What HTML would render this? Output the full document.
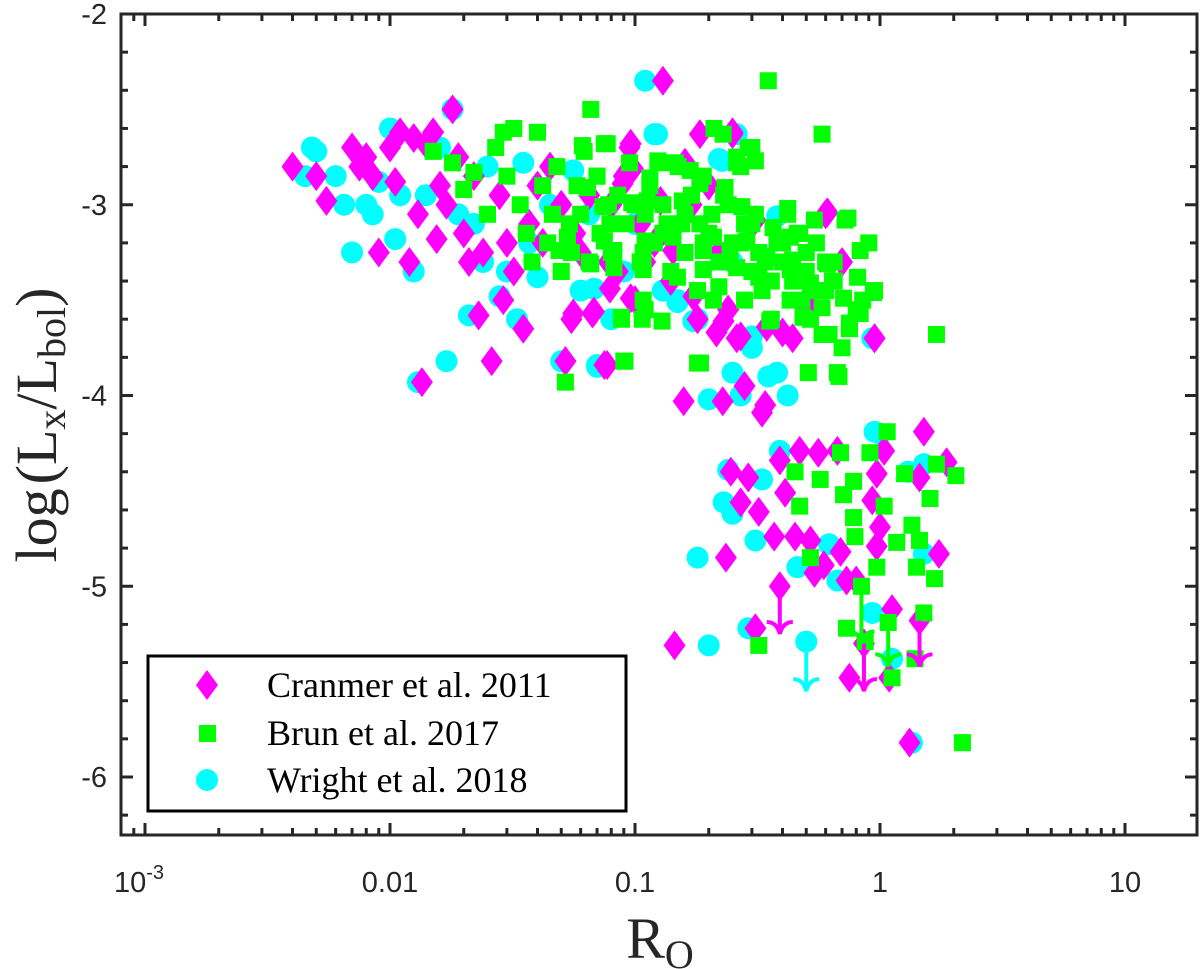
<!DOCTYPE html>
<html><head><meta charset="utf-8"><style>
html,body{margin:0;padding:0;background:#fff;width:1200px;height:969px;overflow:hidden}
svg{display:block}
</style></head><body>
<svg id="chart" width="1200" height="969" xmlns="http://www.w3.org/2000/svg">
<g id="marks"></g>
<g id="axes"></g>
</svg>
<script>
// ---- data ----
const cranRo = [0.004,0.005,0.0055,0.007,0.0075,0.008,0.0085,0.009,0.01,0.0105,0.011,0.012,0.0125,0.013,0.0135,0.014,0.015,0.0155,0.016,0.017,0.018,0.019,0.02,0.021,0.022,0.023,0.024,0.026,0.028,0.029,0.03,0.032,0.035,0.037,0.04,0.042,0.045,0.05,0.052,0.055,0.057,0.06,0.065,0.068,0.075,0.078,0.08,0.085,0.09,0.095,0.1,0.105,0.11,0.13,0.12,0.14,0.17,0.18,0.2,0.22,0.24,0.25,0.26,0.3,0.44,0.5,0.6,0.7,0.95,
0.158,0.228,0.33,1.51,0.39,0.47,0.56,0.67,1.04,1.87,0.246,0.29,0.41,1.45,0.97,0.27,0.32,0.37,0.45,0.52,0.235,0.59,0.54,0.69,0.73,0.80,0.93,1.0,1.74,0.97,0.39,0.145,0.31,1.12,1.45,0.75,1.09,1.32,0.86,0.28,0.34,
0.096,0.184,0.25,0.098,0.089,0.16,0.61,0.127,0.31,0.056,0.067,0.079,0.096,0.143,0.173,0.215,0.27,0.40,0.95,0.077,0.052,0.23,0.345,0.50];
const cranL = [-2.8,-2.85,-2.98,-2.7,-2.8,-2.75,-2.85,-3.25,-2.7,-2.88,-2.62,-3.3,-2.65,-3.05,-3.93,-2.68,-2.62,-3.18,-2.9,-3.0,-2.5,-2.75,-3.15,-3.3,-2.85,-3.58,-3.25,-3.82,-2.95,-3.5,-3.2,-3.35,-3.65,-3.1,-2.9,-3.2,-2.8,-3.0,-3.82,-3.6,-3.15,-3.25,-2.95,-3.56,-3.84,-3.3,-3.0,-3.35,-2.85,-2.7,-3.5,-3.1,-3.3,-2.35,-3.2,-3.4,-3.0,-3.6,-2.9,-3.25,-3.55,-2.62,-3.7,-3.1,-3.7,-3.5,-3.05,-3.3,-3.7,
-4.03,-4.03,-4.09,-4.19,-4.34,-4.29,-4.30,-4.29,-4.29,-4.35,-4.40,-4.43,-4.51,-4.43,-4.41,-4.56,-4.61,-4.74,-4.74,-4.76,-4.85,-4.89,-4.93,-4.82,-4.97,-4.97,-4.55,-4.69,-4.83,-4.79,-5.0,-5.31,-5.22,-5.12,-5.18,-5.48,-5.48,-5.82,-5.30,-3.95,-4.05,
-2.68,-2.63,-2.63,-2.81,-2.89,-2.78,-3.04,-2.98,-3.08,-3.57,-3.57,-3.44,-3.49,-3.24,-3.48,-3.67,-3.69,-3.67,-3.70,-3.84,-3.82,-3.61,-3.64,-3.54];
const brunRo = [0.015,0.018,0.02,0.022,0.025,0.027,0.029,0.03,0.032,0.034,0.036,0.038,0.04,0.042,0.044,0.046,0.048,0.05,0.052,0.054,0.055,0.058,0.06,0.062,0.065,0.066,0.07,0.072,0.075,0.078,0.08,0.085,0.088,0.09,0.092,0.095,0.1,0.105,0.11,0.115,0.12,0.125,0.13,0.14,0.15,0.155,0.16,0.17,0.18,0.185,0.19,0.2,0.21,0.22,0.23,0.24,0.25,0.26,0.27,0.28,0.29,0.3,0.31,0.32,0.33,0.35,0.36,0.38,0.4,0.42,0.44,0.46,0.48,0.5,0.52,0.55,0.58,0.6,0.62,0.65,0.7,0.72,0.75,0.8,0.85,0.9,0.95,1.7,
0.11,0.13,0.16,0.19,0.23,0.27,0.3,0.34,0.36,0.4,0.45,0.5,0.55,0.6,0.65,0.68,
1.07,0.69,0.91,0.45,0.57,0.78,0.71,0.47,1.26,1.7,2.04,1.6,1.04,0.78,1.35,0.79,1.17,1.45,0.52,1.41,0.97,1.67,0.84,0.73,1.08,1.51,0.32,0.87,1.39,1.12,2.17,
0.061,0.077,0.229,0.30,0.26,0.31,0.124,0.146,0.168,0.184,0.233,0.115,0.07,0.064,0.074,0.097,0.112,0.156,0.206,0.273,0.42,0.54,0.74,0.079,0.135,0.184,0.366,0.47,0.053,0.075,0.11,0.143,0.209,0.286,0.38,0.43,0.049,0.082,0.108,0.19,0.244,0.345,0.44,0.61,0.83,0.066,0.082,0.108,0.149,0.19,0.26,0.32,0.43,0.52,0.64,0.81,0.22,0.108,0.209,0.28,0.43,0.71,0.94,0.088,0.107,0.129,0.355,0.485,0.58,0.58,0.83,0.75,0.091,0.18,0.51,0.67];
const brunL = [-2.72,-2.78,-2.92,-2.83,-3.05,-2.7,-2.62,-2.85,-2.6,-3.0,-3.15,-3.3,-2.62,-2.9,-3.2,-3.05,-2.8,-3.35,-3.93,-3.1,-3.25,-2.9,-3.05,-2.72,-3.3,-2.5,-2.85,-3.15,-2.68,-3.0,-3.25,-2.95,-3.6,-3.82,-3.1,-2.78,-3.0,-3.3,-3.55,-2.9,-3.2,-2.78,-3.0,-3.35,-2.8,-3.1,-3.25,-2.95,-3.45,-3.83,-2.85,-3.15,-2.6,-3.3,-2.95,-3.0,-3.2,-2.75,-2.8,-3.1,-2.7,-3.35,-3.05,-3.25,-3.45,-2.35,-3.6,-3.2,-3.3,-3.05,-3.4,-3.15,-3.5,-3.25,-3.6,-3.45,-2.63,-3.3,-3.68,-3.4,-3.75,-3.08,-3.62,-3.55,-3.5,-3.2,-3.45,-3.68,
-3.05,-3.15,-3.05,-3.2,-3.3,-3.2,-3.1,-3.3,-3.4,-3.2,-3.4,-3.35,-3.2,-3.45,-3.3,-3.9,
-4.19,-4.30,-4.30,-4.40,-4.44,-4.45,-4.52,-4.58,-4.41,-4.36,-4.42,-4.54,-4.58,-4.64,-4.68,-4.74,-4.77,-4.76,-4.85,-4.90,-4.90,-4.96,-5.0,-5.22,-5.19,-5.14,-5.31,-5.29,-5.38,-5.48,-5.82,
-2.69,-2.68,-2.63,-2.70,-2.78,-2.77,-2.77,-2.78,-2.82,-2.89,-2.91,-2.86,-2.85,-2.91,-3.01,-2.99,-2.98,-2.98,-3.05,-3.01,-3.02,-3.08,-3.07,-3.10,-3.10,-3.10,-3.12,-3.15,-3.17,-3.19,-3.19,-3.17,-3.17,-3.19,-3.20,-3.17,-3.24,-3.24,-3.25,-3.24,-3.24,-3.27,-3.29,-3.31,-3.24,-3.31,-3.33,-3.34,-3.38,-3.34,-3.33,-3.38,-3.34,-3.41,-3.40,-3.38,-3.43,-3.50,-3.50,-3.50,-3.50,-3.49,-3.46,-3.59,-3.60,-3.61,-3.61,-3.59,-3.54,-3.68,-3.57,-3.65,-3.82,-3.83,-3.88,-3.88];
const wrightRo = [0.0045,0.0048,0.005,0.006,0.0065,0.007,0.008,0.0085,0.009,0.01,0.0105,0.011,0.0125,0.013,0.014,0.016,0.017,0.018,0.019,0.021,0.022,0.024,0.025,0.028,0.03,0.033,0.035,0.037,0.04,0.045,0.05,0.055,0.06,0.065,0.07,0.08,0.09,0.1,0.11,0.12,0.13,0.15,0.18,0.2,0.22,0.25,0.27,0.3,0.35,0.42,
0.95,0.39,1.51,0.24,0.33,0.23,0.25,0.31,0.18,0.46,0.67,0.62,1.51,0.29,0.20,0.5,0.93,1.12,1.35,1.0,1.3,
0.123,0.227,0.26,0.068,0.173,0.149,0.30,0.93,0.07,0.25,0.38,0.38,0.056,0.13];
const wrightL = [-2.85,-2.7,-2.72,-2.85,-3.0,-3.25,-3.0,-3.05,-2.88,-2.6,-3.18,-2.95,-3.35,-3.93,-2.95,-2.7,-3.82,-2.5,-3.05,-3.58,-3.1,-3.3,-2.8,-3.48,-3.35,-3.6,-2.78,-3.2,-3.38,-3.0,-3.82,-3.2,-3.45,-3.05,-3.85,-3.6,-3.35,-3.1,-2.35,-2.63,-3.45,-3.5,-3.6,-4.02,-2.76,-3.3,-4.0,-3.75,-3.9,-4.0,
-4.19,-4.29,-4.36,-4.39,-4.44,-4.56,-4.62,-4.76,-4.85,-4.90,-4.97,-4.78,-4.83,-5.22,-5.31,-5.29,-5.14,-5.38,-5.82,-4.2,-4.4,
-2.63,-2.77,-2.63,-3.44,-3.61,-3.51,-3.69,-3.70,-3.84,-3.88,-3.88,-3.06,-2.82,-3.45];
// upper-limit arrows
const arrowSeries = ['c','c','c','b','b','w'];
const arrowRo = [0.39,0.86,1.45,0.84,1.08,0.5];
const arrowFrom = [-5.0,-5.30,-5.18,-5.0,-5.19,-5.29];
const arrowTo = [-5.25,-5.55,-5.42,-5.3,-5.42,-5.55];
const xTickVals = [0.001,0.01,0.1,1,10];
const xTickLabels = ['10','0.01','0.1','1','10'];
const yTickVals = [-2,-3,-4,-5,-6];
const yTickLabels = ['-2','-3','-4','-5','-6'];

// ---- axes mapping ----
const L=121,R=1197,T=14,B=835;
const xs = v => 880 + 245*Math.log10(v);
const ys = v => 14 + (-2 - v)*190.75;
const NS='http://www.w3.org/2000/svg';
function mk(tag,attrs,parent){const e=document.createElementNS(NS,tag);for(const k in attrs)e.setAttribute(k,attrs[k]);parent.appendChild(e);return e;}
const marks=document.getElementById('marks'), axes=document.getElementById('axes');

for(let i=0;i<wrightRo.length;i++){
  const c=mk('circle',{cx:xs(wrightRo[i]),cy:ys(wrightL[i]),r:11,fill:'#00ffff'},marks);
  
  
}
for(let i=0;i<cranRo.length;i++){
  const x=xs(cranRo[i]),y=ys(cranL[i]);
  const p=mk('polygon',{points:`${x},${y-15} ${x+11},${y} ${x},${y+15} ${x-11},${y}`,fill:'#ff00ff'},marks);
  
  
}
for(let i=0;i<brunRo.length;i++){
  const x=xs(brunRo[i]),y=ys(brunL[i]);
  const s=mk('rect',{x:x-8.5,y:y-8.5,width:17,height:17,fill:'#00ff00'},marks);
  
  
}
const acol={c:'#ff00ff',b:'#00ff00',w:'#00ffff'};
for(let i=0;i<arrowRo.length;i++){
  const x=xs(arrowRo[i]),y1=ys(arrowFrom[i]),y2=ys(arrowTo[i]);
  const g=mk('g',{stroke:acol[arrowSeries[i]],'stroke-width':4,fill:'none'},marks);
  
  
  mk('line',{x1:x,y1:y1,x2:x,y2:y2},g);
  mk('path',{d:`M${x-13},${y2-12} Q${x-3},${y2-12} ${x},${y2} Q${x+3},${y2-12} ${x+13},${y2-12}`},g);
}

const fr=mk('rect',{x:L,y:T,width:R-L,height:B-T,fill:'none',stroke:'#262626','stroke-width':3},axes);


for(let d=-4;d<=1;d++){
  for(let m=1;m<=9;m++){
    const v=m*Math.pow(10,d), x=xs(v);
    if(x<L+2||x>R-2)continue;
    const len=m===1?12:7;
    mk('line',{x1:x,y1:B,x2:x,y2:B-len,stroke:'#262626','stroke-width':3},axes);
    mk('line',{x1:x,y1:T,x2:x,y2:T+len,stroke:'#262626','stroke-width':3},axes);
  }
}
for(let k=0;k<=21;k++){
  const v=-2-k*0.2, y=ys(v);
  if(y>B-1)continue;
  const major=Math.abs(v-Math.round(v))<1e-6, len=major?12:7;
  mk('line',{x1:L,y1:y,x2:L+len,y2:y,stroke:'#262626','stroke-width':3},axes);
  mk('line',{x1:R,y1:y,x2:R-len,y2:y,stroke:'#262626','stroke-width':3},axes);
}
for(let i=0;i<xTickVals.length;i++){
  const t=mk('text',{x:xs(xTickVals[i]),y:892,'text-anchor':'middle','font-family':'Liberation Sans, sans-serif','font-size':29,fill:'#262626'},axes);
  
  
  t.textContent=xTickLabels[i];
  if(i===0){const s=mk('tspan',{dy:-13,'font-size':20},t);s.textContent='-3';t.setAttribute('x',xs(xTickVals[i])-6);}
}
for(let i=0;i<yTickVals.length;i++){
  const t=mk('text',{x:107,y:ys(yTickVals[i])+10,'text-anchor':'end','font-family':'Liberation Sans, sans-serif','font-size':29,fill:'#262626'},axes);
  
  
  t.textContent=yTickLabels[i];
}
</script>
<svg style="position:absolute;left:0;top:0" width="1200" height="969" xmlns="http://www.w3.org/2000/svg">
<text x="660" y="958" text-anchor="middle" font-family="Liberation Serif, serif" font-size="58" fill="#262626">R<tspan font-size="40" dy="10">O</tspan></text>
<text transform="translate(56,425) rotate(-90)" text-anchor="middle" font-family="Liberation Serif, serif" font-size="58" fill="#262626">log<tspan dx="4">(L</tspan><tspan font-size="40" dy="9">x</tspan><tspan dy="-9">/L</tspan><tspan font-size="40" dy="9">bol</tspan><tspan dy="-9">)</tspan></text>
<g>
<rect x="148" y="656" width="478" height="155" fill="#fff" stroke="#000" stroke-width="3"/>
<g>
<polygon points="207,670 218,685 207,700 196,685" fill="#ff00ff"/>
<text x="267" y="697" font-family="Liberation Serif, serif" font-size="36" fill="#000">Cranmer et al. 2011</text></g>
<g>
<rect x="199" y="725" width="17" height="17" fill="#00ff00"/>
<text x="267" y="745" font-family="Liberation Serif, serif" font-size="36" fill="#000">Brun et al. 2017</text></g>
<g>
<circle cx="207" cy="780" r="11" fill="#00ffff"/>
<text x="267" y="792" font-family="Liberation Serif, serif" font-size="36" fill="#000">Wright et al. 2018</text></g>
</g>
</svg>
</body></html>
